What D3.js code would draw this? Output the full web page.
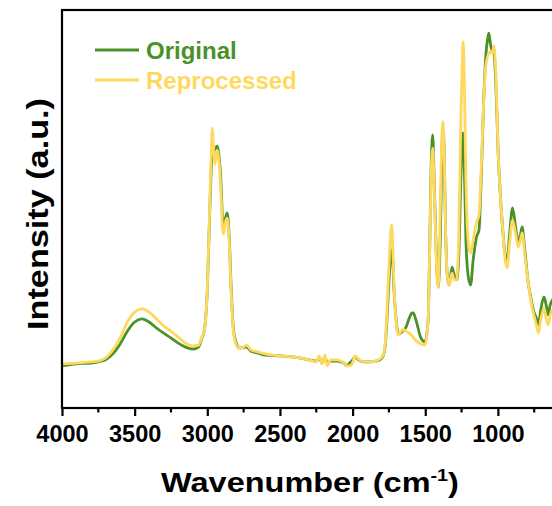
<!DOCTYPE html>
<html>
<head>
<meta charset="utf-8">
<script src="https://cdn.jsdelivr.net/npm/d3@7"></script>
<style>
  body { margin: 0; background: #fff; }
  text { font-family: "Liberation Sans", Arial, sans-serif; font-weight: bold; }
</style>
</head>
<body>
<div id="dataviz"></div>
<script>

// wavenumbers (cm-1)
var wavenumbers = [4000,3900,3800,3750,3700,3650,3600,3550,3500,3450,3400,3350,3300,3250,3200,3150,3100,3060,3040,3020,3000,2985,2970,2966,2958,2947,2938,2931,2920,2905,2895,2888,2875,2863,2850,2835,2820,2800,2785,2760,2730,2700,2650,2600,2500,2400,2300,2250,2230,2210,2190,2175,2150,2110,2060,2040,2020,2000,1984,1960,1920,1880,1840,1812,1790,1775,1760,1745,1735,1731,1725,1715,1700,1686,1670,1651,1635,1610,1590,1583,1560,1530,1502,1480,1470,1460,1449,1440,1425,1411,1395,1385,1377,1370,1360,1345,1335,1316,1300,1284,1270,1255,1245,1239,1232,1220,1205,1188,1170,1147,1130,1115,1100,1085,1070,1062,1050,1040,1027,1015,998,983,968,950,936,920,899,880,860,845,833,815,791,770,756,735,721,705,683,668,654,640,625,610];

var original = [10.6,11.1,11.3,11.6,12.1,13.6,16.1,19.3,21.6,22.4,21.6,20.1,18.8,17.6,16.3,15.3,14.8,15.3,17.3,19.6,29.6,47.2,62.3,64.8,65.3,64.8,65.6,65.8,63.6,56.1,47.2,45.2,47.7,49.0,43.5,29.6,19.6,16.3,15.1,15.1,15.3,14.3,13.8,13.3,13.1,12.8,12.1,11.8,12.6,11.3,12.8,11.3,11.8,11.8,11.3,10.6,11.3,12.1,12.8,12.1,11.6,11.6,11.8,12.1,13.1,15.8,24.6,34.7,39.2,39.7,38.2,29.6,22.1,18.8,18.8,19.6,20.1,22.6,23.9,23.9,21.6,17.6,16.6,22.1,38.7,59.5,68.6,59.5,39.7,30.4,44.7,64.8,70.4,64.8,44.7,32.2,30.9,35.4,33.4,32.2,37.2,57.3,67.3,69.1,62.3,42.2,33.4,30.9,37.2,43.0,44.7,57.3,74.9,87.4,92.9,94.2,91.2,89.9,89.2,82.4,64.1,53.5,45.5,38.4,37.2,43.5,50.3,46.0,41.5,43.5,45.5,39.7,31.4,27.1,24.6,22.6,20.9,24.6,27.9,25.9,23.4,25.9,27.1,27.6];

var reprocessed = [11.1,11.3,11.6,11.8,12.6,14.6,17.6,21.6,24.1,24.9,24.1,22.4,20.6,19.3,17.8,16.3,15.6,15.8,17.6,19.6,29.6,48.5,67.3,70.4,66.3,61.3,63.6,64.8,62.3,53.5,45.2,43.7,46.7,47.7,42.2,28.4,19.1,15.8,15.1,15.1,15.8,14.6,14.1,13.6,13.1,12.8,12.1,11.6,13.1,11.1,13.3,10.6,12.1,12.1,11.3,10.6,10.6,11.3,13.1,12.3,11.6,11.6,11.8,12.3,13.3,16.3,27.1,39.7,45.2,46.0,42.2,30.9,21.6,18.3,19.1,19.8,19.3,18.8,18.1,17.8,16.8,16.1,15.8,22.1,38.7,57.0,65.3,58.0,38.4,30.4,52.3,68.6,71.9,64.8,44.7,32.2,30.9,33.9,32.2,32.2,42.2,72.4,87.4,92.0,84.9,57.3,42.2,38.9,42.2,46.7,48.5,59.8,74.9,85.4,88.4,89.2,89.4,89.2,90.9,84.9,64.1,53.5,45.5,37.2,35.2,41.0,47.2,44.2,40.5,42.2,44.0,38.4,31.4,26.4,23.9,20.9,18.8,22.1,25.1,22.6,20.9,23.4,24.6,25.1];

var xTicks = [4000, 3500, 3000, 2500, 2000, 1500, 1000];
var xMinorTicks = [3750, 3250, 2750, 2250, 1750, 1250, 750];

var seriesNames = ["Original", "Reprocessed"];
var seriesColors = ["#4a9228", "#ffd95e"];

var W = 552, H = 506;
var margin = {top: 10, right: -4, bottom: 98, left: 62},
    width = W - margin.left - margin.right,
    height = H - margin.top - margin.bottom;

var svg = d3.select("#dataviz")
  .append("svg")
    .attr("width", W)
    .attr("height", H)
  .append("g")
    .attr("transform", "translate(" + margin.left + "," + margin.top + ")");

var x = d3.scaleLinear()
  .domain([4000, 600])
  .range([0, width]);

var y = d3.scaleLinear()
  .domain([0, 100])
  .range([height, 0]);

var line = d3.line()
  .x(function(d) { return x(d.wn); })
  .y(function(d) { return y(d.v); })
  .curve(d3.curveMonotoneX);

var data = [original, reprocessed].map(function(vals) {
  return vals.map(function(v, i) { return {wn: wavenumbers[i], v: v}; });
});

svg.selectAll(".spectrum")
  .data(data)
  .enter()
  .append("path")
    .attr("class", "spectrum")
    .attr("fill", "none")
    .attr("stroke", function(d, i) { return seriesColors[i]; })
    .attr("stroke-width", 2.8)
    .attr("stroke-linejoin", "round")
    .attr("d", line);

// frame
svg.append("rect")
  .attr("width", width)
  .attr("height", height)
  .attr("fill", "none")
  .attr("stroke", "#000")
  .attr("stroke-width", 2.2);

// bottom axis, major + minor ticks
var xAxis = svg.append("g")
  .attr("transform", "translate(0," + height + ")")
  .call(d3.axisBottom(x).tickValues(xTicks).tickSize(8).tickPadding(9).tickFormat(d3.format("d")));
xAxis.select(".domain").remove();
xAxis.selectAll(".tick line").attr("stroke-width", 2.2);
xAxis.selectAll(".tick text")
  .attr("fill", "#000")
  .style("font-size", "23.5px");

svg.append("g")
  .attr("transform", "translate(0," + height + ")")
  .selectAll("line")
  .data(xMinorTicks)
  .enter()
  .append("line")
    .attr("x1", function(d) { return x(d); })
    .attr("x2", function(d) { return x(d); })
    .attr("y1", 0)
    .attr("y2", 4.5)
    .attr("stroke", "#000")
    .attr("stroke-width", 2.2);

// axis titles (the original type is a bit wider than Arial, hence the scale)
var xTitle = svg.append("text")
  .attr("transform", "translate(248," + (height + 84) + ") scale(1.16,1)")
  .attr("text-anchor", "middle")
  .style("font-size", "28px")
  .text("Wavenumber (cm");
xTitle.append("tspan").attr("dy", -11).style("font-size", "17px").text("-1");
xTitle.append("tspan").attr("dy", 11).text(")");

svg.append("text")
  .attr("transform", "translate(-14," + (height / 2 + 5) + ") rotate(-90) scale(1.18,1)")
  .attr("text-anchor", "middle")
  .style("font-size", "29px")
  .text("Intensity (a.u.)");

// legend
var legend = svg.selectAll(".legend")
  .data(seriesNames)
  .enter()
  .append("g")
    .attr("class", "legend")
    .attr("transform", function(d, i) { return "translate(33," + (40 + i * 30) + ")"; });

legend.append("line")
  .attr("x1", 0)
  .attr("x2", 44)
  .attr("stroke", function(d, i) { return seriesColors[i]; })
  .attr("stroke-width", 2.8);

legend.append("text")
  .attr("x", 51)
  .attr("dy", "0.36em")
  .attr("fill", function(d, i) { return seriesColors[i]; })
  .style("font-size", "24px")
  .text(function(d) { return d; });

</script>
</body>
</html>
